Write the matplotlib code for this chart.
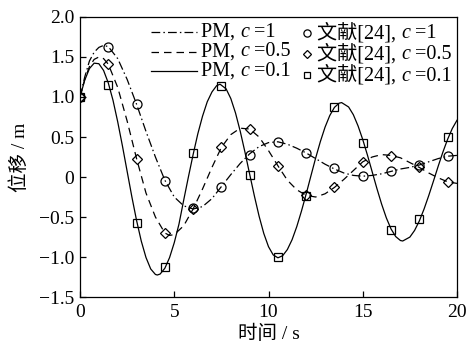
"""Damped displacement curves: PM solution vs reference [24] for three c values."""

import numpy as np
import matplotlib
matplotlib.use("Agg")
from matplotlib import pyplot as plt
import matplotlib.ticker as tck
from matplotlib.lines import Line2D
from matplotlib.offsetbox import (TextArea, DrawingArea, HPacker, VPacker,
                                  AnchoredOffsetbox)

plt.rcParams['font.family'] = ['Liberation Serif', 'Noto Sans CJK SC']
plt.rcParams['axes.unicode_minus'] = True

# PM curve, c = 1 (dash-dot)
t_c1 = [0, 0.25, 0.5, 0.75, 1.0, 1.25, 1.5, 2.0, 2.5, 3.0, 3.5, 4.0, 4.5, 5.0,
        5.5, 6.0, 6.5, 7.0, 7.5, 8.0, 8.5, 9.0, 9.5, 10.0, 10.5, 11.0, 11.5,
        12.0, 12.5, 13.0, 13.5, 14.0, 14.5, 15.0, 15.5, 16.0, 16.5, 17.0,
        17.5, 18.0, 18.5, 19.0, 19.5, 20.0]
x_c1 = [1.00, 1.25, 1.45, 1.56, 1.62, 1.645, 1.63, 1.48, 1.22, 0.91, 0.57, 0.25,
        -0.04, -0.25, -0.36, -0.40, -0.37, -0.27, -0.12, 0.03, 0.17, 0.29, 0.38,
        0.43, 0.44, 0.41, 0.36, 0.30, 0.23, 0.16, 0.10, 0.05, 0.02, 0.01, 0.02,
        0.04, 0.07, 0.10, 0.12, 0.15, 0.19, 0.23, 0.26, 0.27]

# PM curve, c = 0.5 (dashed)
t_c05 = [0, 0.25, 0.5, 0.75, 1.0, 1.25, 1.5, 2.0, 2.5, 3.0, 3.5, 4.0, 4.5, 4.75,
         5.0, 5.5, 6.0, 6.5, 7.0, 7.5, 8.0, 8.5, 9.0, 9.5, 10.0, 10.5, 11.0,
         11.5, 12.0, 12.5, 13.0, 13.5, 14.0, 14.5, 15.0, 15.5, 16.0, 16.5, 17.0,
         17.5, 18.0, 18.5, 19.0, 19.5, 20.0]
x_c05 = [1.00, 1.22, 1.38, 1.47, 1.50, 1.48, 1.41, 1.12, 0.70, 0.23, -0.20, -0.50,
         -0.70, -0.73, -0.72, -0.61, -0.40, -0.15, 0.12, 0.37, 0.53, 0.61, 0.60,
         0.50, 0.33, 0.14, -0.04, -0.16, -0.23, -0.25, -0.21, -0.13, -0.03, 0.08,
         0.19, 0.25, 0.28, 0.27, 0.24, 0.18, 0.12, 0.05, -0.01, -0.06, -0.08]

# PM curve, c = 0.1 (solid), read every 0.25 s
t_c01 = [0, 0.25, 0.5, 0.75, 1.0, 1.25, 1.5, 1.75, 2.0, 2.25, 2.5, 2.75, 3.0,
         3.25, 3.5, 3.75, 4.0, 4.1, 4.25, 4.5, 4.75, 5.0, 5.25, 5.5, 5.75, 6.0,
         6.25, 6.5, 6.75, 7.0, 7.25, 7.43, 7.75, 8.0, 8.25, 8.5, 8.75, 9.0,
         9.25, 9.5, 9.75, 10.0, 10.25, 10.5, 10.75, 11.0, 11.25, 11.5, 11.75,
         12.0, 12.25, 12.5, 12.75, 13.0, 13.25, 13.5, 13.75, 13.88, 14.25, 14.5,
         14.75, 15.0, 15.25, 15.5, 15.75, 16.0, 16.25, 16.5, 16.75, 17.0, 17.12,
         17.5, 17.75, 18.0, 18.25, 18.5, 18.75, 19.0, 19.25, 19.5, 19.75, 20.0]
x_c01 = [1.00, 1.21, 1.355, 1.423, 1.416, 1.332, 1.176, 0.959, 0.690, 0.389,
         0.071, -0.247, -0.543, -0.801, -1.006, -1.149, -1.218, -1.225, -1.213,
         -1.141, -1.008, -0.821, -0.589, -0.29, 0.0, 0.28, 0.54, 0.76, 0.94,
         1.063, 1.142, 1.16, 1.102, 0.981, 0.800, 0.572, 0.312, 0.036, -0.236,
         -0.489, -0.706, -0.871, -0.974, -1.010, -0.984, -0.907, -0.784, -0.620,
         -0.425, -0.211, 0.014, 0.236, 0.442, 0.623, 0.768, 0.871, 0.923, 0.93,
         0.875, 0.779, 0.639, 0.468, 0.273, 0.065, -0.143, -0.338, -0.510,
         -0.649, -0.745, -0.794, -0.80, -0.751, -0.668, -0.550, -0.402, -0.233,
         -0.052, 0.133, 0.310, 0.470, 0.606, 0.709]

# Reference [24] points
t_ref = [0, 1.5, 3.0, 4.5, 6.0, 7.5, 9.0, 10.5, 12.0, 13.5, 15.0, 16.5, 18.0, 19.5]
ref_c1 = [1.00, 1.63, 0.91, -0.05, -0.39, -0.12, 0.28, 0.44, 0.30, 0.11, 0.01,
          0.075, 0.15, 0.26]
ref_c05 = [1.00, 1.41, 0.23, -0.70, -0.40, 0.37, 0.60, 0.14, -0.23, -0.12, 0.19,
           0.26, 0.12, -0.06]
ref_c01 = [1.00, 1.15, -0.58, -1.13, 0.30, 1.14, 0.025, -1.00, -0.24, 0.87, 0.43,
           -0.66, -0.53, 0.50]

c_labels = ['1', '0.5', '0.1']

fig = plt.figure(figsize=(4.69, 3.44), dpi=100)
ax = fig.add_axes([0.1706, 0.1366, 0.8038, 0.814])

lw = 0.9
line_styles = [dict(dashes=[7, 2.5, 1.2, 2.5]), dict(dashes=[6, 4]), dict(ls='-')]
marker_styles = [dict(marker='o', ms=6.5), dict(marker='D', ms=5),
                 dict(marker='s', ms=5.5)]
mk = dict(ls='none', mfc='none', mec='k', mew=0.9)

for t, x, st in zip([t_c1, t_c05, t_c01], [x_c1, x_c05, x_c01], line_styles):
    ax.plot(t, x, color='k', lw=lw, **st)
for ref, st in zip([ref_c1, ref_c05, ref_c01], marker_styles):
    ax.plot(t_ref, ref, **mk, **st)

ax.set_xlim(0, 20)
ax.set_ylim(-1.5, 2.0)
ax.xaxis.set_major_locator(tck.MultipleLocator(5))
ax.yaxis.set_major_locator(tck.MultipleLocator(0.5))
ax.yaxis.set_major_formatter(tck.FuncFormatter(
    lambda v, pos: '0' if abs(v) < 1e-9 else '{:.1f}'.format(v).replace('-', '\u2212')))
ax.tick_params(direction='in', length=4, width=0.9, labelsize=14, pad=4,
               top=False, right=False)
ax.tick_params(axis='x', pad=5)
for s in ax.spines.values():
    s.set_linewidth(0.9)

ax.set_xlabel('时间 / s', fontsize=14, labelpad=3)
ax.set_ylabel('位移 / m', fontsize=14, labelpad=7)

# legend built by hand so that the Chinese text and the italic c can mix
fs = 14.5
tp = dict(fontsize=fs, family=['Liberation Serif', 'Noto Sans CJK SC'])
tpi = dict(fontsize=fs, family='Liberation Serif', style='italic')


def label_box(prefix, cval):
    return HPacker(children=[TextArea(prefix, textprops=tp),
                             TextArea('c', textprops=tpi),
                             TextArea(' =' + cval, textprops=tp)],
                   pad=0, sep=0, align='baseline')


def line_handle(st):
    da = DrawingArea(33, 12, 0, 0)
    da.add_artist(Line2D([0, 33], [6, 6], color='k', lw=lw, **st))
    return da


def marker_handle(st):
    da = DrawingArea(8, 12, 0, 0)
    s = dict(st)
    s['ms'] = s['ms'] * 0.8
    da.add_artist(Line2D([4], [6], **mk, **s))
    return da


col1 = VPacker(children=[HPacker(children=[line_handle(st), label_box('PM, ', c)],
                                 pad=0, sep=3, align='center')
                         for st, c in zip(line_styles, c_labels)],
               pad=0, sep=0.5, align='left')
col2 = VPacker(children=[HPacker(children=[marker_handle(st), label_box('文献[24], ', c)],
                                 pad=0, sep=3, align='center')
                         for st, c in zip(marker_styles, c_labels)],
               pad=0, sep=0.5, align='left')
leg = AnchoredOffsetbox(loc='upper right', child=HPacker(children=[col1, col2],
                                                         pad=0, sep=8, align='top'),
                        pad=0.1, borderpad=0.3, frameon=False)
ax.add_artist(leg)

fig.savefig('out.png', dpi=100)
